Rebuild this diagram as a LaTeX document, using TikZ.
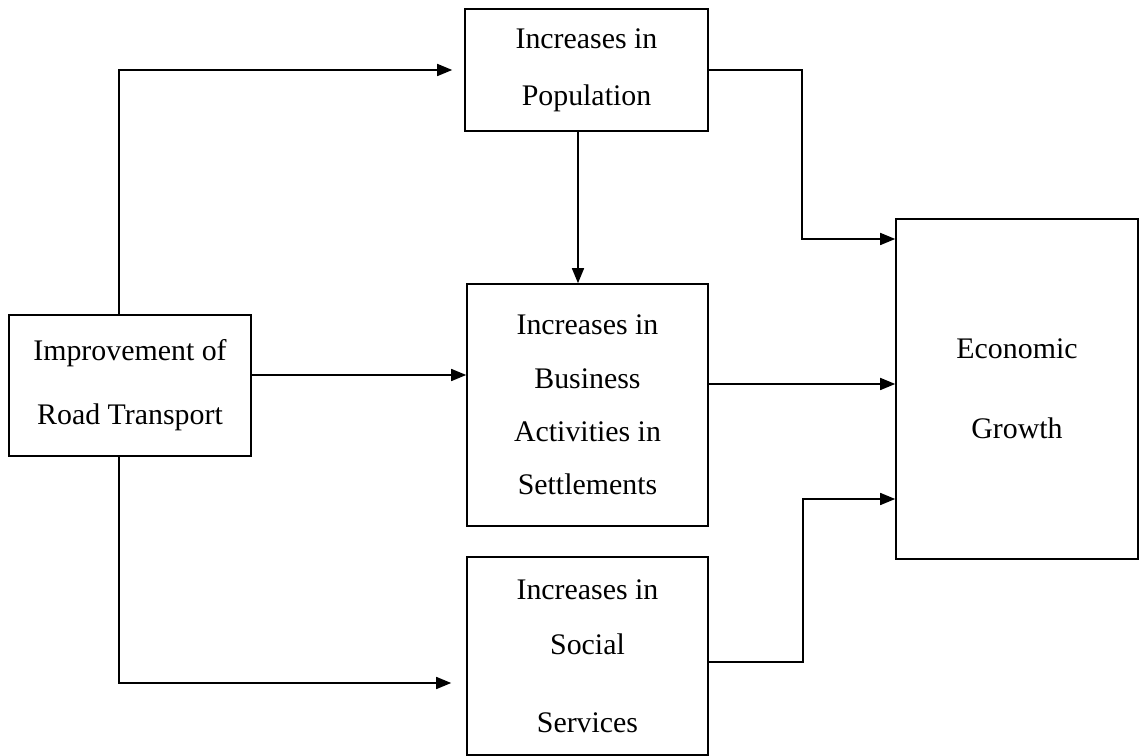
\documentclass[tikz,border=0pt]{standalone}
\usepackage{fontspec}
\setmainfont{Liberation Serif}
\usetikzlibrary{arrows.meta}

\tikzset{
	block/.style={draw,line width=0.9pt,align=center,inner sep=0pt,
		font=\fontsize{17}{20.4}\selectfont},
}

\begin{document}
\begin{tikzpicture}[line width=0.9pt,>={Triangle[length=0.3cm,width=0.24cm]}]
		\useasboundingbox (0,0) rectangle (22.82,15.12);

		% the boxes
		\node[block,minimum width=4.84cm,minimum height=2.82cm] (road) at (2.60,7.41)
			{Improvement of\\[16pt]Road Transport};
		\node[block,minimum width=4.86cm,minimum height=2.44cm] (pop) at (11.73,13.72)
			{Increases in\\[12pt]Population};
		\node[block,minimum width=4.82cm,minimum height=4.84cm] (bus) at (11.75,7.02)
			{Increases in\\[10pt]Business\\[10pt]Activities in\\[10pt]Settlements};
		\node[block,minimum width=4.82cm,minimum height=3.96cm] (soc) at (11.75,2.00)
			{Increases in\\[11pt]Social\\[24pt]Services};
		\node[block,minimum width=4.84cm,minimum height=6.80cm] (eco) at (20.34,7.34)
			{Economic\\[25pt]Growth};

		% from road transport
		\draw[->,shorten >=0.24cm] ([xshift=-0.22cm]road.north) |- (pop.west);
		\draw[->] ([yshift=0.21cm]road.east) -- ([yshift=0.21cm]road.east -| bus.west);
		\draw[->,shorten >=0.3cm] ([xshift=-0.22cm]road.south) |- ([yshift=-0.54cm]soc.west);

		% population to business
		\draw[->] ([xshift=-0.17cm]pop.south) -- ([xshift=-0.17cm]pop.south |- bus.north);

		% into economic growth
		\draw[->] (pop.east) -- ++(1.86,0) |- ([yshift=3cm]eco.west);
		\draw[->] ([yshift=0.42cm]bus.east) -- ([yshift=0.42cm]bus.east -| eco.west);
		\draw[->] ([yshift=-0.12cm]soc.east) -- ++(1.88,0) |- ([yshift=-2.2cm]eco.west);
	\end{tikzpicture}
\end{document}
